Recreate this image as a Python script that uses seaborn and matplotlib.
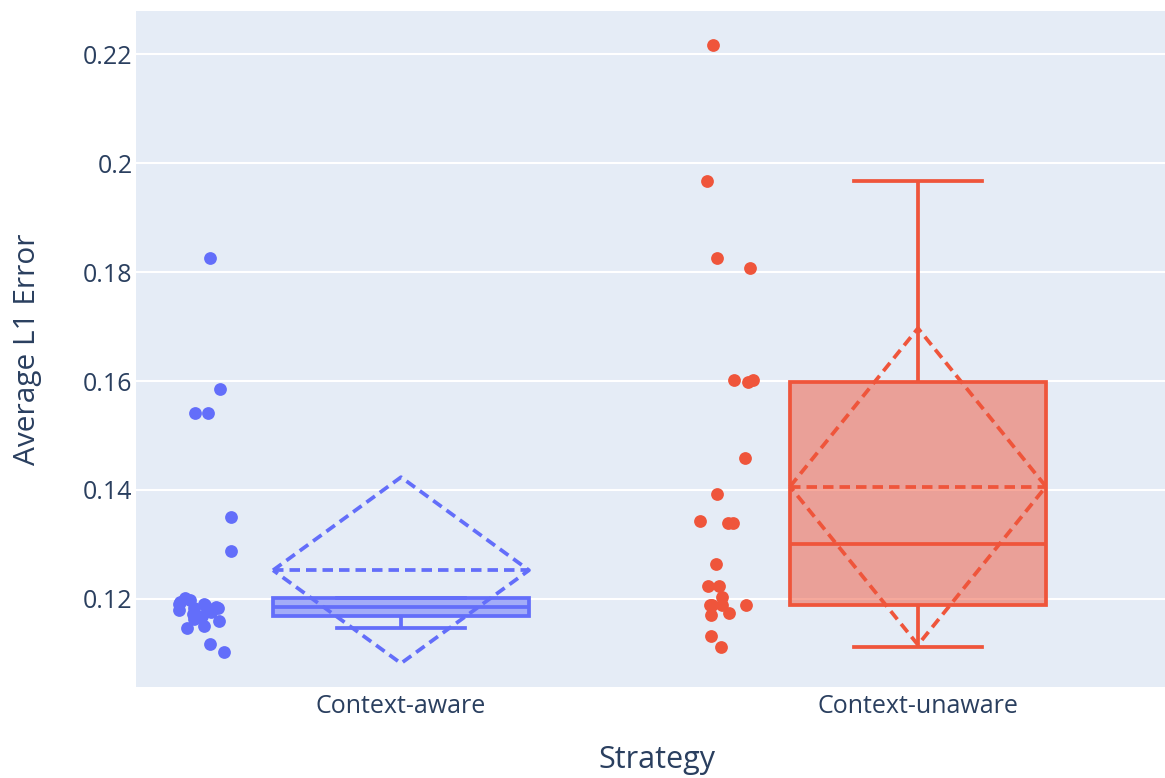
import numpy as np
import pandas as pd
import matplotlib
matplotlib.use("Agg")
import matplotlib.pyplot as plt
import seaborn as sns
from matplotlib.colors import to_rgba

# ---------------- data ----------------
strategies = ["Context-aware", "Context-unaware"]
aware_err = [0.1825, 0.1585, 0.1542, 0.1541, 0.1350, 0.1288,
             0.1202, 0.1198, 0.1195, 0.1191, 0.1191, 0.1189, 0.1186,
             0.1184, 0.1183, 0.1182, 0.1179, 0.1176, 0.1173, 0.1168,
             0.1163, 0.1160, 0.1151, 0.1147, 0.1118, 0.1103]
unaware_err = [0.2217, 0.1967, 0.1826, 0.1808, 0.1602, 0.1601, 0.1598,
               0.1458, 0.1392, 0.1343, 0.1339, 0.1339, 0.1264, 0.1224,
               0.1224, 0.1204, 0.1189, 0.1189, 0.1189, 0.1189, 0.1174,
               0.1171, 0.1132, 0.1112]
colors = ["#636EFA", "#EF553B"]
yticks = [0.12, 0.14, 0.16, 0.18, 0.2, 0.22]
ytick_labels = ["0.12", "0.14", "0.16", "0.18", "0.2", "0.22"]
x_title = "Strategy"
y_title = "Average L1 Error"

df = pd.DataFrame({
    "Strategy": [strategies[0]] * len(aware_err) + [strategies[1]] * len(unaware_err),
    y_title: aware_err + unaware_err,
})

# ---------------- style ----------------
plt.rcParams["font.family"] = ["Open Sans", "DejaVu Sans"]
text_color = "#2a3f5f"
W, H = 1165, 778
fig = plt.figure(figsize=(W / 100, H / 100), dpi=100)
left, right, top, bottom = 136, 1165, 11, 686.7
ax = fig.add_axes([left / W, 1 - bottom / H, (right - left) / W, (bottom - top) / H])
ax.set_facecolor("#E5ECF6")
ax.set_axisbelow(True)

box_w = 0.495
lw = 2.7
point_shift = -0.375
np.random.seed(3)

for i, (s, c) in enumerate(zip(strategies, colors)):
    sub = df[df["Strategy"] == s]
    n_patches = len(ax.patches)
    sns.boxplot(data=sub, x="Strategy", y=y_title, order=strategies,
                color=c, linecolor=c, saturation=1, width=box_w, whis=1.5,
                showfliers=False, linewidth=lw, ax=ax, zorder=2)
    for p in ax.patches[n_patches:]:
        p.set_facecolor(to_rgba(c, 0.5))
        p.set_edgecolor(c)
    n_coll = len(ax.collections)
    sns.stripplot(data=sub, x="Strategy", y=y_title, order=strategies,
                  color=c, size=9.2, jitter=0.058, linewidth=0, ax=ax, zorder=3)
    for coll in ax.collections[n_coll:]:
        off = coll.get_offsets()
        off[:, 0] = off[:, 0] + point_shift
        coll.set_offsets(off)
    vals = sub[y_title].to_numpy()
    m, sd = vals.mean(), vals.std()
    h = box_w / 2
    dash = (0, (2.8, 1.6))
    ax.plot([i - h, i, i + h, i, i - h], [m, m + sd, m, m - sd, m],
            color=c, lw=lw, ls=dash, zorder=4, solid_joinstyle="miter")
    ax.plot([i - h, i + h], [m, m], color=c, lw=lw, ls=dash, zorder=4)

ax.set_xlim(-0.5126, 1.4778)
ax.set_ylim(0.1039, 0.2279)
ax.set_yticks(yticks)
ax.set_yticklabels(ytick_labels)
ax.yaxis.grid(True, color="white", lw=1.5)
ax.xaxis.grid(False)
for sp in ax.spines.values():
    sp.set_visible(False)
ax.tick_params(axis="both", length=0, labelsize=18, labelcolor=text_color)
ax.tick_params(axis="x", pad=5)
ax.tick_params(axis="y", pad=2.5)

ax.set_xlabel(x_title, fontsize=22, color=text_color)
ax.set_ylabel(y_title, fontsize=21.5, color=text_color)
ax.xaxis.set_label_coords(0.506, -0.087)
ax.yaxis.set_label_coords(-0.0913, 0.5)

fig.savefig("out.png", dpi=100, facecolor="white")
